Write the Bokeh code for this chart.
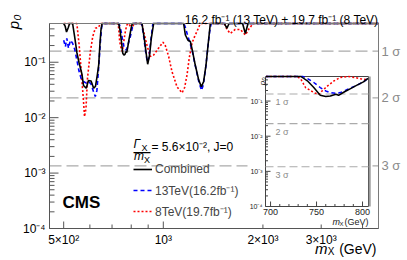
import math
from bokeh.plotting import figure
from bokeh.models import Range1d, LinearScale, LogScale, Legend, LegendItem
from bokeh.core.properties import value
from bokeh.embed import file_html
from bokeh.resources import INLINE

# ---------------- data ----------------
comb_mass = [500, 505, 510, 516, 521, 532, 540, 548, 556, 562, 568, 574, 585, 594, 605, 616, 624, 632, 638, 643, 648, 653,
             733, 740, 747, 754, 760, 766, 771, 775, 780, 787, 794, 800, 806,
             862, 876, 889, 897, 909, 920, 935,
             1152, 1166, 1187, 1207, 1226, 1249, 1279, 1303, 1324, 1346, 1365, 1387,
             1530, 1557, 1580, 1736, 1770, 1803, 4470]
comb_p = [0.5, 0.45, 0.35, 0.42, 0.5, 0.5, 0.28, 0.15, 0.10, 0.078, 0.06, 0.038, 0.034, 0.047, 0.046, 0.034, 0.037, 0.06, 0.09, 0.2, 0.38, 0.5,
          0.5, 0.38, 0.24, 0.146, 0.134, 0.139, 0.156, 0.15, 0.18, 0.25, 0.33, 0.42, 0.5,
          0.5, 0.27, 0.135, 0.092, 0.135, 0.27, 0.5,
          0.5, 0.31, 0.25, 0.237, 0.156, 0.089, 0.048, 0.036, 0.045, 0.089, 0.2, 0.5,
          0.5, 0.41, 0.5, 0.5, 0.33, 0.5, 0.5]

tev13_mass = [500, 506, 511, 517, 524, 532, 540, 548, 556, 565, 574, 585, 595, 605, 616, 623, 630, 637, 645, 651, 656,
              735, 740, 747, 754, 760, 765, 771, 776, 784, 794, 801, 807, 813,
              860, 872, 885, 895, 905, 917, 930,
              1155, 1170, 1185, 1205, 1226, 1250, 1280, 1305, 1322, 1345, 1365, 1380, 1395, 4470]
tev13_p = [0.25, 0.19, 0.27, 0.18, 0.25, 0.22, 0.17, 0.11, 0.07, 0.05, 0.045, 0.042, 0.045, 0.04, 0.029, 0.024, 0.031, 0.072, 0.22, 0.43, 0.5,
           0.5, 0.44, 0.34, 0.243, 0.194, 0.174, 0.166, 0.174, 0.217, 0.283, 0.352, 0.44, 0.5,
           0.5, 0.3, 0.15, 0.1, 0.12, 0.25, 0.5,
           0.5, 0.4, 0.3, 0.22, 0.15, 0.085, 0.045, 0.031, 0.04, 0.085, 0.2, 0.35, 0.5, 0.5]

tev8_mass = [500, 548, 557, 565, 574, 578, 584, 590, 602, 612, 623, 638, 645,
             728, 733, 738, 743, 749, 752, 756, 762, 769, 776, 784, 791, 798, 806, 815,
             862, 872, 893, 914, 935, 968, 998, 1014, 1038, 1062, 1100, 1139, 1160, 1180, 1198, 1221, 1243, 1264, 1294,
             1530, 1557, 1594, 1649, 1709, 1770, 1820, 1870, 4470]
tev8_p = [0.5, 0.5, 0.2, 0.068, 0.0195, 0.0104, 0.0148, 0.051, 0.156, 0.29, 0.41, 0.43, 0.5,
          0.5, 0.42, 0.243, 0.194, 0.166, 0.156, 0.194, 0.27, 0.376, 0.47, 0.5, 0.47, 0.43, 0.40, 0.5,
          0.5, 0.36, 0.2, 0.127, 0.135, 0.18, 0.23, 0.2, 0.127, 0.068, 0.036, 0.028, 0.035, 0.06, 0.12, 0.22, 0.29, 0.36, 0.5,
          0.5, 0.39, 0.33, 0.39, 0.39, 0.31, 0.41, 0.5, 0.5]

# inset (fine scan around 750 GeV)
inset_comb_mass = [695, 733, 740, 747, 754, 760, 765, 771, 774, 780, 787, 794, 801, 806]
inset_comb_p = [0.5, 0.5, 0.376, 0.243, 0.146, 0.134, 0.139, 0.156, 0.146, 0.181, 0.227, 0.283, 0.352, 0.44]
inset_13_mass = [695, 735, 740, 747, 754, 760, 765, 771, 776, 784, 794, 801, 806]
inset_13_p = [0.5, 0.5, 0.44, 0.338, 0.243, 0.194, 0.174, 0.166, 0.174, 0.217, 0.283, 0.352, 0.44]
inset_8_mass = [695, 729, 733, 738, 744, 749, 753, 756, 762, 769, 776, 784, 791, 798, 806]
inset_8_p = [0.5, 0.5, 0.42, 0.243, 0.194, 0.166, 0.156, 0.194, 0.27, 0.376, 0.47, 0.5, 0.47, 0.43, 0.40]

sigma_p = [0.1587, 0.02275, 0.00135]
sigma_labels = ["1 \u03c3", "2 \u03c3", "3 \u03c3"]

y_tick_values = [1e-4, 1e-3, 1e-2, 1e-1]
y_tick_labels = ["10\u207b\u2074", "10\u207b\u00b3", "10\u207b\u00b2", "10\u207b\u00b9"]
y_minor_ticks = [2e-4, 3e-4, 4e-4, 5e-4, 6e-4, 7e-4, 8e-4, 9e-4,
                 2e-3, 3e-3, 4e-3, 5e-3, 6e-3, 7e-3, 8e-3, 9e-3,
                 2e-2, 3e-2, 4e-2, 5e-2, 6e-2, 7e-2, 8e-2, 9e-2,
                 0.2, 0.3, 0.4]
x_tick_values = [500, 1000, 2000, 3000]
x_tick_labels = ["5\u00d710\u00b2", "10\u00b3", "2\u00d710\u00b3", "3\u00d710\u00b3"]
x_minor_ticks = [600, 700, 800, 900, 4000]
inset_x_tick_values = [700, 750, 800]
inset_x_tick_labels = ["700", "750", "800"]
inset_x_minor_ticks = [710, 720, 730, 740, 760, 770, 780, 790]

legend_labels = ["Combined", "13TeV(16.2fb\u207b\u00b9)", "8TeV(19.7fb\u207b\u00b9)"]
title_text = "16.2 fb\u207b\u00b9 (13 TeV) + 19.7 fb\u207b\u00b9 (8 TeV)"

# ---------------- layout constants (pixels) ----------------
FONT = "Liberation Sans"
W, H = 405, 258
ML, MR, MT, MB = 49, 378, 23, 228          # main plot box
IL, IR, IT, IB = 265, 368, 76, 206         # inset box
X_MAIN = (453, 4470)
Y_MAIN = (1e-4, 0.5)
X_IN = (694.5, 806.5)
Y_IN = (1e-4, 0.5)


def full_range(lo, hi, a, b, total, log=False, flip=False):
    """range of the whole canvas so that lo..hi land on pixels a..b"""
    f = math.log10 if log else (lambda v: v)
    g = (lambda v: 10 ** v) if log else (lambda v: v)
    L, Hh = f(lo), f(hi)
    k = (Hh - L) / (b - a)
    if flip:   # y: hi at pixel a (top), lo at pixel b (bottom)
        return g(L - (total - b) * k), g(Hh + a * k)
    return g(L - a * k), g(Hh + (total - b) * k)


mx = full_range(*X_MAIN, ML, MR, W, log=True)
my = full_range(*Y_MAIN, MT, MB, H, log=True, flip=True)
ix = full_range(*X_IN, IL, IR, W)
iy = full_range(*Y_IN, IT, IB, H, log=True, flip=True)

p = figure(width=W, height=H, x_axis_type="log", y_axis_type="log",
           x_range=Range1d(*mx), y_range=Range1d(*my),
           x_axis_location=None, y_axis_location=None,
           output_backend="svg", toolbar_location=None, title=None,
           min_border=0, min_border_left=0, min_border_right=0, min_border_top=0, min_border_bottom=0)
p.xgrid.visible = False
p.ygrid.visible = False
p.outline_line_color = None
p.background_fill_color = "white"
p.border_fill_color = "white"

p.extra_x_ranges = {"ix": Range1d(*ix)}
p.extra_x_scales = {"ix": LinearScale()}
p.extra_y_ranges = {"iy": Range1d(*iy)}
p.extra_y_scales = {"iy": LogScale()}
R = dict(x_range_name="ix", y_range_name="iy")
TXT = dict(text_font=value(FONT))
AX = "#555555"

# ---------------- main plot ----------------
# sigma reference lines
p.segment(x0=[X_MAIN[0]] * 3, x1=[X_MAIN[1]] * 3, y0=sigma_p, y1=sigma_p,
          line_color="#ababab", line_width=1.2, line_dash="12 5")
p.text(x=[X_MAIN[1]] * 3, y=sigma_p, text=sigma_labels, x_offset=3, text_align="left",
       text_baseline="middle", text_font_size="13px", text_color="#8a8a8a", **TXT)

# curves
r8 = p.line(tev8_mass, tev8_p, line_color="red", line_width=1.6, line_dash="2 2")
r13 = p.line(tev13_mass, tev13_p, line_color="blue", line_width=1.6, line_dash="4 3")
rc = p.line(comb_mass, comb_p, line_color="black", line_width=1.6)

# box + axes
p.quad(left=[X_MAIN[0]], right=[X_MAIN[1]], bottom=[Y_MAIN[0]], top=[Y_MAIN[1]],
       fill_color=None, line_color="#7a7a7a", line_width=1)
p.segment(x0=[X_MAIN[0], X_MAIN[0]], x1=[X_MAIN[0], X_MAIN[1]], y0=[Y_MAIN[0], Y_MAIN[0]], y1=[Y_MAIN[1], Y_MAIN[0]],
          line_color=AX, line_width=1)
p.ray(x=[X_MAIN[0]] * len(y_tick_values), y=y_tick_values, length=9, length_units="screen", angle=0,
      line_color=AX, line_width=1)
p.ray(x=[X_MAIN[0]] * len(y_minor_ticks), y=y_minor_ticks, length=5, length_units="screen", angle=0,
      line_color=AX, line_width=1)
p.ray(x=x_tick_values, y=[Y_MAIN[0]] * len(x_tick_values), length=7, length_units="screen", angle=math.pi / 2,
      line_color=AX, line_width=1)
p.ray(x=x_minor_ticks, y=[Y_MAIN[0]] * len(x_minor_ticks), length=4, length_units="screen", angle=math.pi / 2,
      line_color=AX, line_width=1)
p.text(x=[X_MAIN[0]] * len(y_tick_values), y=y_tick_values, text=y_tick_labels, x_offset=-4,
       text_align="right", text_baseline="middle", text_font_size="12px", text_color="black", **TXT)
p.text(x=x_tick_values, y=[Y_MAIN[0]] * len(x_tick_values), text=x_tick_labels, y_offset=4,
       text_align="center", text_baseline="top", text_font_size="12px", text_color="black", **TXT)

# axis titles and header
p.text(x=[X_MAIN[1]], y=[Y_MAIN[1]], text=[title_text], y_offset=-4, text_align="right",
       text_baseline="alphabetic", text_font_size="12px", text_color="black", **TXT)
p.text(x=[X_MAIN[1]], y=[Y_MAIN[0]], text=["(GeV)"], x_offset=-2, y_offset=20, text_align="right",
       text_baseline="middle", text_font_size="14px", text_color="black", **TXT)
p.text(x=[X_MAIN[1]], y=[Y_MAIN[0]], text=["X"], x_offset=-44, y_offset=23, text_align="right",
       text_baseline="middle", text_font_size="10px", text_color="black", **TXT)
p.text(x=[X_MAIN[1]], y=[Y_MAIN[0]], text=["m"], x_offset=-51, y_offset=20, text_align="right",
       text_baseline="middle", text_font_size="15px", text_font_style="italic", text_color="black", **TXT)
p.text(x=[X_MAIN[0]], y=[Y_MAIN[1]], text=["p\u2080"], x_offset=-36, y_offset=-9, angle=math.pi / 2,
       text_align="right", text_baseline="middle", text_font_size="15px", text_font_style="italic",
       text_color="black", **TXT)
p.text(x=[X_MAIN[0]], y=[Y_MAIN[0]], text=["CMS"], x_offset=13, y_offset=-26, text_align="left",
       text_baseline="middle", text_font_size="17px", text_font_style="bold", text_color="black", **TXT)

# legend header (width / mass ratio)
hdr = dict(x=[X_MAIN[0]], y=[Y_MAIN[0]], text_align="left", text_baseline="middle", text_color="black", **TXT)
p.text(text=["\u0393"], x_offset=84, y_offset=-84.5, text_font_size="12px", text_font_style="italic", **hdr)
p.text(text=["X"], x_offset=92, y_offset=-81, text_font_size="9px", **hdr)
p.text(text=["\u2014"], x_offset=84, y_offset=-77.5, text_font_size="17px", **hdr)
p.text(text=["m"], x_offset=84.5, y_offset=-72.5, text_font_size="12px", text_font_style="italic", **hdr)
p.text(text=["X"], x_offset=94.5, y_offset=-69, text_font_size="9px", **hdr)
p.text(text=["= 5.6\u00d710\u207b\u00b2, J=0"], x_offset=102, y_offset=-81.5, text_font_size="12px", **hdr)

# ---------------- inset ----------------
gev_per_px = (X_IN[1] - X_IN[0]) / (IR - IL)
pad_l = X_IN[0] - (IL - 247) * gev_per_px
pad_r = X_IN[1] + 1 * gev_per_px
dec = (math.log10(Y_IN[1]) - math.log10(Y_IN[0])) / (IB - IT)
pad_t = 10 ** (math.log10(Y_IN[1]) + (IT - 70) * dec)
pad_b = 10 ** (math.log10(Y_IN[0]) - (224 - IB) * dec)
p.quad(left=[pad_l], right=[pad_r], bottom=[pad_b], top=[pad_t], fill_color="white", line_color=None, **R)
p.quad(left=[X_IN[0]], right=[X_IN[1]], bottom=[Y_IN[0]], top=[Y_IN[1]], fill_color="white",
       line_color="#444444", line_width=1, **R)
# light shadow border on the right of the inset
p.segment(x0=[X_IN[1] + 1.2 * gev_per_px], x1=[X_IN[1] + 1.2 * gev_per_px], y0=[Y_IN[0]], y1=[Y_IN[1]],
          line_color="#9a9a9a", line_width=2, **R)

p.segment(x0=[X_IN[0]] * 3, x1=[X_IN[1]] * 3, y0=sigma_p, y1=sigma_p,
          line_color="#ababab", line_width=1.1, line_dash="8 4", **R)
p.text(x=[X_IN[0]] * 3, y=sigma_p, text=sigma_labels, x_offset=10, y_offset=8,
       text_align="left", text_baseline="middle", text_font_size="9px", text_color="#8a8a8a", **TXT, **R)

p.line(inset_8_mass, inset_8_p, line_color="red", line_width=1.5, line_dash="2 2", **R)
p.line(inset_13_mass, inset_13_p, line_color="blue", line_width=1.5, line_dash="4 3", **R)
p.line(inset_comb_mass, inset_comb_p, line_color="black", line_width=1.5, **R)

p.ray(x=[X_IN[0]] * len(y_tick_values), y=y_tick_values, length=5, length_units="screen", angle=0,
      line_color="#444444", line_width=1, **R)
p.ray(x=[X_IN[0]] * len(y_minor_ticks), y=y_minor_ticks, length=2.5, length_units="screen", angle=0,
      line_color="#444444", line_width=1, **R)
p.ray(x=inset_x_tick_values, y=[Y_IN[0]] * 3, length=5, length_units="screen", angle=math.pi / 2,
      line_color="#444444", line_width=1, **R)
p.ray(x=inset_x_minor_ticks, y=[Y_IN[0]] * len(inset_x_minor_ticks), length=2.5, length_units="screen",
      angle=math.pi / 2, line_color="#444444", line_width=1, **R)
p.text(x=[X_IN[0]] * 4, y=y_tick_values, text=y_tick_labels, x_offset=-3, text_align="right",
       text_baseline="middle", text_font_size="7px", text_color="#222222", **TXT, **R)
p.text(x=inset_x_tick_values, y=[Y_IN[0]] * 3, text=inset_x_tick_labels, y_offset=2, text_align="center",
       text_baseline="top", text_font_size="9px", text_color="#222222", **TXT, **R)
p.text(x=[X_IN[1]], y=[Y_IN[0]], text=["(GeV)"], y_offset=15, text_align="right", text_baseline="middle",
       text_font_size="9px", text_color="#222222", **TXT, **R)
p.text(x=[X_IN[1]], y=[Y_IN[0]], text=["X"], x_offset=-25, y_offset=17, text_align="right",
       text_baseline="middle", text_font_size="6px", text_color="#222222", **TXT, **R)
p.text(x=[X_IN[1]], y=[Y_IN[0]], text=["m"], x_offset=-28.5, y_offset=15, text_align="right",
       text_baseline="middle", text_font_size="9px", text_font_style="italic", text_color="#222222", **TXT, **R)
p.text(x=[X_IN[0]], y=[Y_IN[1]], text=["p\u2080"], x_offset=-3, y_offset=1, angle=math.pi / 2,
       text_align="right", text_baseline="middle", text_font_size="8px", text_font_style="italic",
       text_color="#222222", **TXT, **R)

# ---------------- legend ----------------
legend = Legend(items=[LegendItem(label=legend_labels[0], renderers=[rc]),
                       LegendItem(label=legend_labels[1], renderers=[r13]),
                       LegendItem(label=legend_labels[2], renderers=[r8])],
                location=(133, H - 221), padding=0, margin=0, spacing=1, glyph_width=19, glyph_height=20,
                label_height=20, label_standoff=3, label_text_font=FONT, label_text_font_size="12px",
                background_fill_alpha=0, border_line_alpha=0)
p.add_layout(legend)

open("out.html", "w").write(file_html(p, INLINE))
